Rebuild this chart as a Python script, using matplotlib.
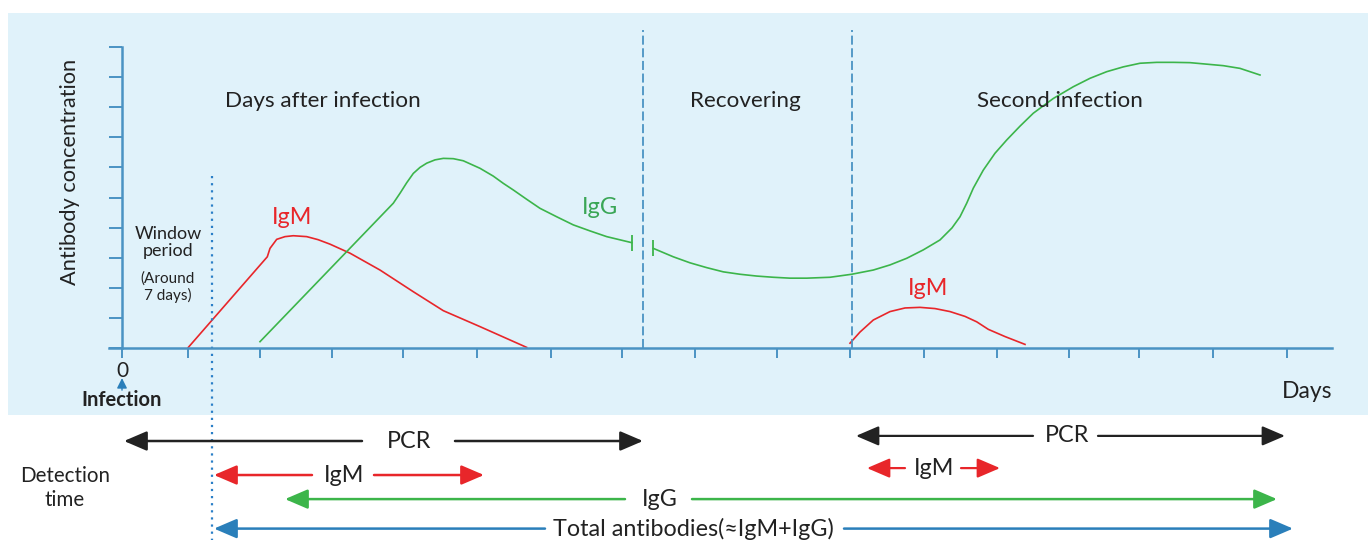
import matplotlib
matplotlib.use("Agg")
import matplotlib.pyplot as plt
from matplotlib.patches import Rectangle

plt.rcParams['font.family'] = ['Lato', 'DejaVu Sans']

# ---------------- data (x: days-like units, y: relative concentration 0-100) -------------
tick_days = [0, 6.6, 13.8, 21.0, 28.1, 35.5, 42.9, 50.0, 57.3, 65.5, 72.8,
             80.2, 87.5, 94.7, 101.7, 109.1, 116.5]
y_ticks = [0, 10, 20, 30, 40, 50, 60, 70, 80, 90, 100]

igm1_x = [6.63, 14.53, 14.8, 15.47, 16.3, 17.13, 18.47, 19.6, 20.8, 22.8, 25.8,
          29.13, 32.13, 35.8, 40.47]
igm1_y = [0.2, 30.3, 33.1, 36.1, 37.0, 37.3, 37.0, 36.0, 34.5, 31.5, 25.9,
          18.7, 12.4, 7.1, 0.2]

igg1_x = [13.8, 27.13, 27.8, 28.47, 29.13, 29.8, 30.47, 31.3, 32.13, 33.13, 34.13,
          35.8, 37.13, 38.13, 39.13, 40.47, 41.8, 43.47, 45.13, 46.8, 48.47, 50.97]
igg1_y = [2.1, 48.1, 51.4, 54.9, 58.0, 60.0, 61.4, 62.5, 63.0, 62.9, 62.2,
          59.7, 57.1, 54.7, 52.5, 49.4, 46.4, 43.6, 40.9, 38.9, 37.0, 35.0]

igg2_x = [53.13, 55.13, 56.8, 58.47, 60.13, 61.8, 63.47, 65.13, 66.8, 68.47, 70.8,
          72.97, 75.13, 76.8, 78.47, 80.13, 81.8, 83.0, 83.8, 84.47, 85.13, 86.13,
          87.3, 88.47, 89.8, 91.13, 93.13, 95.13, 96.8, 98.47, 100.13, 101.8,
          103.47, 105.13, 106.8, 108.47, 110.13, 111.8, 113.8]
igg2_y = [33.1, 30.3, 28.3, 26.7, 25.3, 24.5, 23.9, 23.5, 23.2, 23.2, 23.5,
          24.5, 25.9, 27.6, 29.8, 32.6, 35.9, 39.9, 43.6, 48.1, 53.1, 59.1,
          64.7, 69.1, 73.7, 78.0, 82.9, 86.8, 89.6, 91.8, 93.4, 94.6,
          94.9, 94.9, 94.8, 94.3, 93.8, 92.9, 90.7]

igm2_x = [72.8, 73.8, 75.13, 76.8, 78.3, 79.8, 81.3, 82.8, 84.3, 85.47, 86.63, 88.3, 90.3]
igm2_y = [1.6, 5.3, 9.3, 12.1, 13.3, 13.5, 13.1, 12.1, 10.5, 8.7, 6.2, 3.8, 1.2]

phase_bounds = [52.1, 73.0]
window_day = 9.03

phase_labels = ['Days after infection', 'Recovering', 'Second infection']
phase_label_x = [20.05, 62.35, 93.8]

# detection-time rows
det_text = ['PCR', 'IgM', 'IgG', 'Total antibodies(≈IgM+IgG)', 'PCR', 'IgM']
det_level = [-30.9, -42.2, -50.2, -60.0, -29.2, -39.9]
det_left_tip = [0.2, 9.2, 16.3, 9.2, 73.4, 74.5]
det_left_inner = [24.0, 19.0, 50.3, 42.3, 91.1, 78.3]
det_text_x = [28.7, 22.2, 53.8, 57.1, 94.5, 81.2]
det_right_inner = [33.3, 25.2, 57.0, 72.2, 97.6, 83.9]
det_right_tip = [52.1, 36.2, 115.5, 117.1, 116.3, 87.8]
det_color = ['#222222', '#e8262a', '#3cb54a', '#2a7fba', '#222222', '#e8262a']
det_lw = [1.8, 1.8, 1.8, 1.8, 1.6, 1.6]

# ---------------- styles ----------------
AX_BLUE = '#4a93c3'
RED = '#e8262a'
GREEN = '#3cb54a'
GREEN_TXT = '#3aa656'
TXT = '#222222'

fig = plt.figure(figsize=(13.7, 5.4), dpi=100)
fig.patch.set_facecolor('white')
fig.patches.append(Rectangle((8 / 1370, 125 / 540), 1360 / 1370, 402 / 540,
                             transform=fig.transFigure, facecolor='#e0f2fa',
                             edgecolor='none', zorder=-5))

ax = fig.add_axes([109 / 1370, 192 / 540, 1223 / 1370, 301 / 540])
ax.set_facecolor('none')
ax.set_xlim(-1.3, 121.0)
ax.set_ylim(0, 100)

for s in ['top', 'right']:
    ax.spines[s].set_visible(False)
ax.spines['left'].set_position(('data', 0))
for s in ['left', 'bottom']:
    ax.spines[s].set_color(AX_BLUE)
    ax.spines[s].set_linewidth(1.8)

ax.set_xticks(tick_days)
ax.set_xticklabels(['0'] + [''] * (len(tick_days) - 1))
ax.set_yticks(y_ticks)
ax.set_yticklabels([])
ax.tick_params(axis='x', direction='out', length=7.2, width=1.4, color=AX_BLUE,
               labelsize=15, labelcolor=TXT, pad=2)
ax.tick_params(axis='y', direction='out', length=9.4, width=1.4, color=AX_BLUE)

# curves
ax.plot(igm1_x, igm1_y, color=RED, lw=1.2, clip_on=False)
ax.plot(igm2_x, igm2_y, color=RED, lw=1.2, clip_on=False)
ax.plot(igg1_x, igg1_y, color=GREEN, lw=1.2, clip_on=False,
        marker='|', markersize=12, markeredgewidth=1.3, markevery=[len(igg1_x) - 1])
ax.plot(igg2_x, igg2_y, color=GREEN, lw=1.2, clip_on=False,
        marker='|', markersize=12, markeredgewidth=1.3, markevery=[0])

# phase boundaries
for b in phase_bounds:
    ax.plot([b, b], [0, 105.6], color=AX_BLUE, lw=1.3, ls=(0, (5, 2)), clip_on=False)

# window period dotted line
ax.plot([window_day, window_day], [57.1, -63.8], color='#2a7fc7', lw=1.6,
        ls=(0, (1, 2.2)), clip_on=False)

# texts
ax.text(-5.2, 58.5, 'Antibody concentration', rotation=90, ha='center', va='center',
        fontsize=15.7, color=TXT)
for lab, lx in zip(phase_labels, phase_label_x):
    ax.text(lx, 82.0, lab, ha='center', va='center', fontsize=16.2, color=TXT)
ax.text(17.0, 43.5, 'IgM', ha='center', va='center', fontsize=16.8, color=RED)
ax.text(47.8, 46.8, 'IgG', ha='center', va='center', fontsize=17, color=GREEN_TXT)
ax.text(80.6, 19.9, 'IgM', ha='center', va='center', fontsize=16.8, color=RED)
ax.text(4.6, 35.0, 'Window\nperiod', ha='center', va='center', fontsize=13,
        color=TXT, linespacing=1.05)
ax.text(4.6, 20.2, '(Around\n7 days)', ha='center', va='center', fontsize=11,
        color=TXT, linespacing=1.2)
ax.annotate('', xy=(0, -10.0), xytext=(0, -14.0), xycoords='data',
            arrowprops=dict(arrowstyle='-|>,head_length=0.6,head_width=0.3',
                            color='#2a7fba', lw=1.0, shrinkA=0, shrinkB=0,
                            mutation_scale=10),
            annotation_clip=False)
ax.text(0, -17.3, 'Infection', ha='center', va='center', fontsize=14.5,
        fontweight='bold', color=TXT, clip_on=False)
ax.text(121.0, -14.6, 'Days', ha='right', va='center', fontsize=16.5, color=TXT)
ax.text(-5.7, -46.5, 'Detection\ntime', ha='center', va='center', fontsize=14.8,
        color=TXT, linespacing=1.3)

# detection-time arrows
for i in range(len(det_text)):
    lvl = det_level[i]
    c = det_color[i]
    for tip, inner in ((det_left_tip[i], det_left_inner[i]),
                       (det_right_tip[i], det_right_inner[i])):
        ax.annotate('', xy=(tip, lvl), xytext=(inner, lvl), xycoords='data',
                    arrowprops=dict(arrowstyle='-|>,head_length=1.4,head_width=0.6',
                                    color=c, lw=det_lw[i], shrinkA=0, shrinkB=0,
                                    mutation_scale=10),
                    annotation_clip=False)
    ax.text(det_text_x[i], lvl, det_text[i], ha='center', va='center',
            fontsize=16.8, color=TXT, clip_on=False)

fig.savefig('out.png', dpi=100, facecolor='white')
